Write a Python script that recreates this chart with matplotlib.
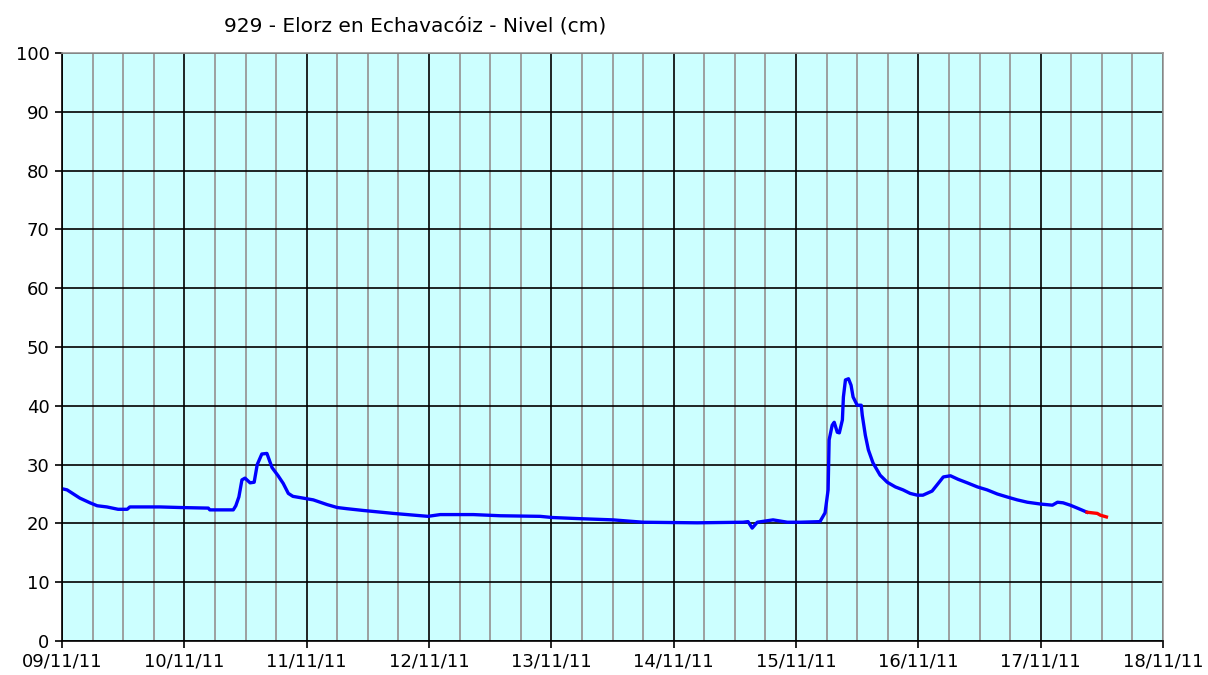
import matplotlib
matplotlib.use("Agg")
import matplotlib.pyplot as plt
import numpy as np
from matplotlib.ticker import MultipleLocator

title = "929 - Elorz en Echavacóiz - Nivel (cm)"
day_labels = ["09/11/11", "10/11/11", "11/11/11", "12/11/11", "13/11/11",
              "14/11/11", "15/11/11", "16/11/11", "17/11/11", "18/11/11"]

# hours since 09/11/11 00:00 and level (cm)
obs_hours = [0.0, 1.0, 3.5, 5.5, 6.9, 8.8, 11.0, 12.8, 13.3, 19.2, 23.2, 28.7, 29.0,
             33.6, 34.1, 34.7, 35.3, 35.9, 36.9, 37.7, 38.3, 39.2, 40.2, 41.2, 42.4,
             43.4, 44.4, 45.3, 47.3, 49.3, 52.0, 54.0, 55.9, 59.1, 65.0, 71.8, 74.2,
             80.7, 86.0, 93.8, 96.2, 101.7, 108.1, 114.0, 124.6, 133.6, 134.6, 135.4,
             136.4, 139.5, 142.3, 144.8, 148.7, 149.7, 150.3, 150.5, 151.1, 151.5,
             152.1, 152.5, 153.1, 153.3, 153.7, 154.3, 154.8, 155.2, 156.0, 156.8,
             157.0, 157.6, 158.2, 159.1, 160.5, 161.9, 163.5, 165.0, 166.4, 167.8,
             168.9, 170.7, 171.9, 172.9, 174.3, 175.8, 177.6, 179.6, 181.5, 183.5,
             185.4, 187.4, 189.4, 191.9, 194.3, 195.3, 196.4, 197.8, 199.2, 201.1]
obs_level = [25.9, 25.7, 24.3, 23.5, 23.0, 22.8, 22.4, 22.4, 22.8, 22.8, 22.7, 22.6, 22.3,
             22.3, 23.0, 24.5, 27.4, 27.7, 26.9, 27.0, 30.0, 31.8, 31.9, 29.5, 28.1,
             26.8, 25.1, 24.6, 24.3, 24.0, 23.2, 22.7, 22.5, 22.2, 21.7, 21.2, 21.5,
             21.5, 21.3, 21.2, 21.0, 20.8, 20.6, 20.2, 20.1, 20.2, 20.3, 19.2,
             20.2, 20.6, 20.2, 20.2, 20.3, 21.8, 25.7, 34.2, 36.7, 37.2,
             35.5, 35.4, 37.6, 41.5, 44.4, 44.6, 43.5, 41.5, 40.1, 40.1,
             38.4, 35.0, 32.5, 30.3, 28.2, 27.0, 26.2, 25.7, 25.1, 24.8,
             24.8, 25.5, 26.8, 27.9, 28.1, 27.5, 26.9, 26.2, 25.7, 25.0,
             24.5, 24.0, 23.6, 23.3, 23.1, 23.6, 23.5, 23.1, 22.6, 21.9]

pred_hours = [201.1, 203.1, 203.7, 204.9]
pred_level = [21.9, 21.7, 21.4, 21.1]

fig = plt.figure(figsize=(12.08, 6.75), dpi=100)
fig.patch.set_facecolor("white")
ax = fig.add_axes([62/1208, 1-641/675, (1163-62)/1208, (641-53)/675])
ax.set_facecolor("#CCFFFF")

ax.set_xlim(0, 9)
ax.set_ylim(0, 100)
ax.xaxis.set_minor_locator(MultipleLocator(0.25))
ax.yaxis.set_major_locator(MultipleLocator(10))
ax.set_xticks(range(len(day_labels)))
ax.set_xticklabels(day_labels)

ax.grid(which="minor", axis="x", color="#999999", linewidth=1.3)
ax.grid(which="major", axis="both", color="black", linewidth=1.2)
ax.set_axisbelow(True)

ax.plot(np.array(obs_hours)/24, obs_level, color="#0000FF", linewidth=2.4, solid_joinstyle="round")
ax.plot(np.array(pred_hours)/24, pred_level, color="#FF0000", linewidth=2.4)

for s in ["top", "right"]:
    ax.spines[s].set_color("#999999")
    ax.spines[s].set_linewidth(1.2)
for s in ["left", "bottom"]:
    ax.spines[s].set_color("black")
    ax.spines[s].set_linewidth(1.2)

ax.tick_params(axis="both", which="major", direction="out", length=5, width=1.2,
               labelsize=13, color="black")
ax.tick_params(axis="x", which="minor", length=0)
ax.tick_params(axis="x", pad=3)
ax.tick_params(axis="y", pad=4)

fig.text(415/1208, 1-26/675, title, ha="center", va="center", fontsize=14.5)

fig.savefig("out.png", dpi=100)
